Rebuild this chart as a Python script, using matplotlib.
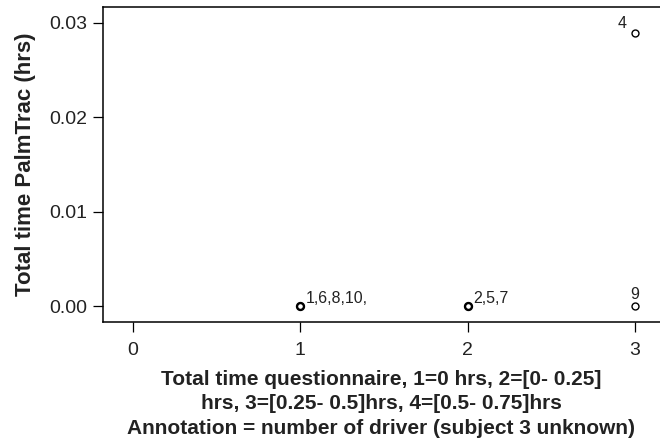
import matplotlib
matplotlib.use("Agg")
import matplotlib.pyplot as plt

plt.rcParams["font.family"] = ["Liberation Sans", "DejaVu Sans"]

X_TICKS = [0, 1, 2, 3]
Y_TICKS = [0.0, 0.01, 0.02, 0.03]
Y_TICK_LABELS = ["0.00", "0.01", "0.02", "0.03"]

# points: questionnaire category, PalmTrac hours, driver annotation
POINT_X = [1, 2, 3, 3]
POINT_Y = [0.0, 0.0, 0.0289, 0.0]
POINT_LABELS = ["1,6,8,10,", "2,5,7", "4", "9"]
LABEL_OFFSETS = [(4, 2), (4, 2.5), (-6, 3.5), (0, 5)]
LABEL_HA = ["left", "left", "right", "center"]

fig, ax = plt.subplots(figsize=(6.6, 4.43), dpi=100)
fig.subplots_adjust(left=0.156, right=1.0, top=0.984, bottom=0.273)

ax.plot(POINT_X, POINT_Y, linestyle="none", marker="o", markersize=5,
        markerfacecolor="white", markeredgecolor="black", markeredgewidth=1.0)
# the 1 and 2 points hold several drivers each, so they print darker
ax.plot(POINT_X[:2], POINT_Y[:2], linestyle="none", marker="o", markersize=5,
        markerfacecolor="none", markeredgecolor="black", markeredgewidth=1.7)

for x, y, lab, off, ha in zip(POINT_X, POINT_Y, POINT_LABELS, LABEL_OFFSETS, LABEL_HA):
    ax.annotate(lab, xy=(x, y), xytext=off, textcoords="offset points",
                fontsize=11.5, color="#222222", ha=ha, va="baseline")

ax.set_xlim(-0.18, 3.15)
ax.set_ylim(-0.0017, 0.03167)
ax.set_xticks(X_TICKS)
ax.set_yticks(Y_TICKS)
ax.set_yticklabels(Y_TICK_LABELS)
ax.tick_params(axis="both", labelsize=14, labelcolor="#222222",
               direction="out", length=7, width=0.9, pad=4)
ax.tick_params(axis="x", pad=7)

ax.spines["right"].set_visible(False)
for sp in ("left", "bottom", "top"):
    ax.spines[sp].set_linewidth(1.1)

ax.set_ylabel("Total time PalmTrac (hrs)", fontsize=16, fontweight="bold",
              color="#222222", labelpad=10)
ax.set_xlabel("Total time questionnaire, 1=0 hrs, 2=[0- 0.25]\n"
              "hrs, 3=[0.25- 0.5]hrs, 4=[0.5- 0.75]hrs\n"
              "Annotation = number of driver (subject 3 unknown)",
              fontsize=15, fontweight="bold", color="#222222",
              linespacing=1.38, labelpad=8)

fig.savefig("out.png", dpi=100)
